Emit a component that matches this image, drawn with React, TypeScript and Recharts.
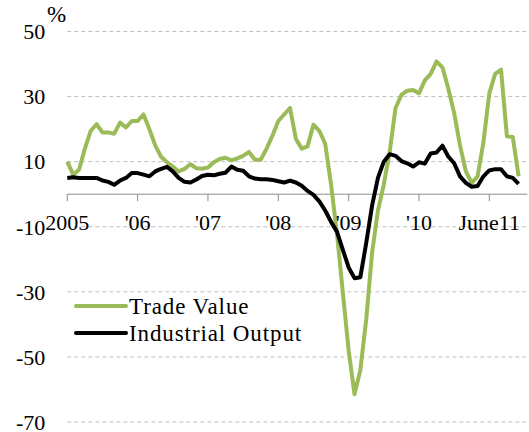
import React from 'react';
import { LineChart, Line, XAxis, YAxis, CartesianGrid, ReferenceLine, ReferenceDot, Legend } from 'recharts';

// Monthly, Jan 2005 .. Jun 2011 (index 0..77)
const tradeValue: number[] = [
  10, 6, 7.5, 14, 19.5, 21.5, 19, 19, 18.6, 22, 20.5, 22.5,
  22.5, 24.5, 20, 15, 11.5, 9.8, 8.5, 7, 7.8, 9.2, 8, 7.8,
  8.2, 9.8, 10.8, 11.2, 10.4, 11, 11.8, 13, 10.6, 10.6, 14, 18,
  22.5, 24.5, 26.5, 17, 14, 14.7, 21.4, 19.5, 15.5, 3, -12, -30,
  -48, -61.5, -54, -38.5, -18, -5, 3, 13, 26.5, 30.5, 31.8, 32,
  31, 35, 37, 40.8, 39, 32.5, 25, 15, 7, 3.5, 5.5, 16,
  31, 37, 38.3, 17.8, 17.6, 5.5,
];
const industrialOutput: number[] = [
  5, 5.2, 5, 5, 5, 5, 4.2, 3.8, 2.9, 4.2, 5, 6.5,
  6.5, 6, 5.5, 7, 7.8, 8.4, 7, 5, 3.8, 3.6, 4.5, 5.6,
  6, 5.8, 6.3, 6.6, 8.5, 7.5, 7.2, 5.5, 4.8, 4.6, 4.6, 4.4,
  4, 3.6, 4.2, 3.6, 2.6, 1, -0.2, -2.2, -5, -8.5, -11.5, -17,
  -22.5, -25.8, -25.5, -15, -3.5, 5, 10, 12.3, 11.8, 10.2, 9.5, 8.5,
  9.8, 9.4, 12.5, 12.8, 14.9, 11.6, 9.5, 5.5, 3.5, 2.3, 2.5, 5.5,
  7.3, 7.7, 7.7, 5.5, 5, 3.2,
];
const xTickIndex: number[] = [0, 12, 24, 36, 48, 60, 72];
const xTickLabels: string[] = ['2005', "'06", "'07", "'08", "'09", "'10", 'June11'];
const yTicks: number[] = [-70, -50, -30, -10, 10, 30, 50];
const seriesNames = { trade: 'Trade Value', industrial: 'Industrial Output' };
const colors = { trade: '#9BBB59', industrial: '#000000' };

const data = tradeValue.map((t, i) => ({ i, trade: t, industrial: industrialOutput[i] }));

const FONT = "'Liberation Serif', 'DejaVu Serif', 'Times New Roman', Times, serif";

const LegendContent = () => (
  <svg width={280} height={62} style={{ display: 'block' }}>
    {[
      { key: 'trade', name: seriesNames.trade, color: colors.trade },
      { key: 'industrial', name: seriesNames.industrial, color: colors.industrial },
    ].map((s, k) => (
      <g key={s.key}>
        <line x1={8} x2={58} y1={16 + k * 27} y2={16 + k * 27} stroke={s.color} strokeWidth={4} strokeLinecap="round" />
        <text x={61} y={16 + k * 27} dominantBaseline="central" fontFamily={FONT} fontSize={23} letterSpacing={0.9} fill="#000">
          {s.name}
        </text>
      </g>
    ))}
  </svg>
);

export default function App() {
  return (
    <div style={{ position: 'absolute', left: 0, top: 0, width: 529, height: 432, background: '#fff' }}>
      <LineChart
        width={529}
        height={432}
        data={data}
        margin={{ top: 31.5, right: 1.6, bottom: 10, left: 0.3 }}
      >
        <CartesianGrid horizontal vertical={false} stroke="#BFBFBF" strokeDasharray="4 3" />
        <XAxis type="number" dataKey="i" domain={[0, 78.5]} hide />
        <YAxis
          type="number"
          domain={[-70, 50]}
          ticks={yTicks}
          interval={0}
          width={67}
          axisLine={false}
          tickLine={false}
          tickSize={0}
          tickMargin={22}
          tick={{ fontSize: 22, fill: '#000', fontFamily: FONT }}
        />
        <ReferenceLine y={0} stroke="#8C8C8C" strokeWidth={1} />
        <Line type="linear" dataKey="trade" name={seriesNames.trade} stroke={colors.trade} strokeWidth={4} dot={false} isAnimationActive={false} strokeLinejoin="round" />
        <Line type="linear" dataKey="industrial" name={seriesNames.industrial} stroke={colors.industrial} strokeWidth={4} dot={false} isAnimationActive={false} strokeLinejoin="round" />
        {xTickIndex.map((t, k) => (
          <ReferenceDot
            key={t}
            x={t}
            y={0}
            r={0}
            shape={(p: any) => (
              <g>
                <line x1={p.cx} x2={p.cx} y1={p.cy} y2={p.cy + 7} stroke="#8C8C8C" strokeWidth={1} />
                <text x={p.cx} y={p.cy + 36} textAnchor="middle" fontFamily={FONT} fontSize={22} fill="#000">
                  {xTickLabels[k]}
                </text>
              </g>
            )}
          />
        ))}
        <Legend
          layout="vertical"
          align="center"
          verticalAlign="middle"
          content={<LegendContent />}
          wrapperStyle={{ left: 68, top: 290, width: 280, height: 62 }}
        />
      </LineChart>
      <div style={{ position: 'absolute', left: 47, top: 3, fontFamily: FONT, fontSize: 23, color: '#000', lineHeight: '24px' }}>%</div>
    </div>
  );
}
